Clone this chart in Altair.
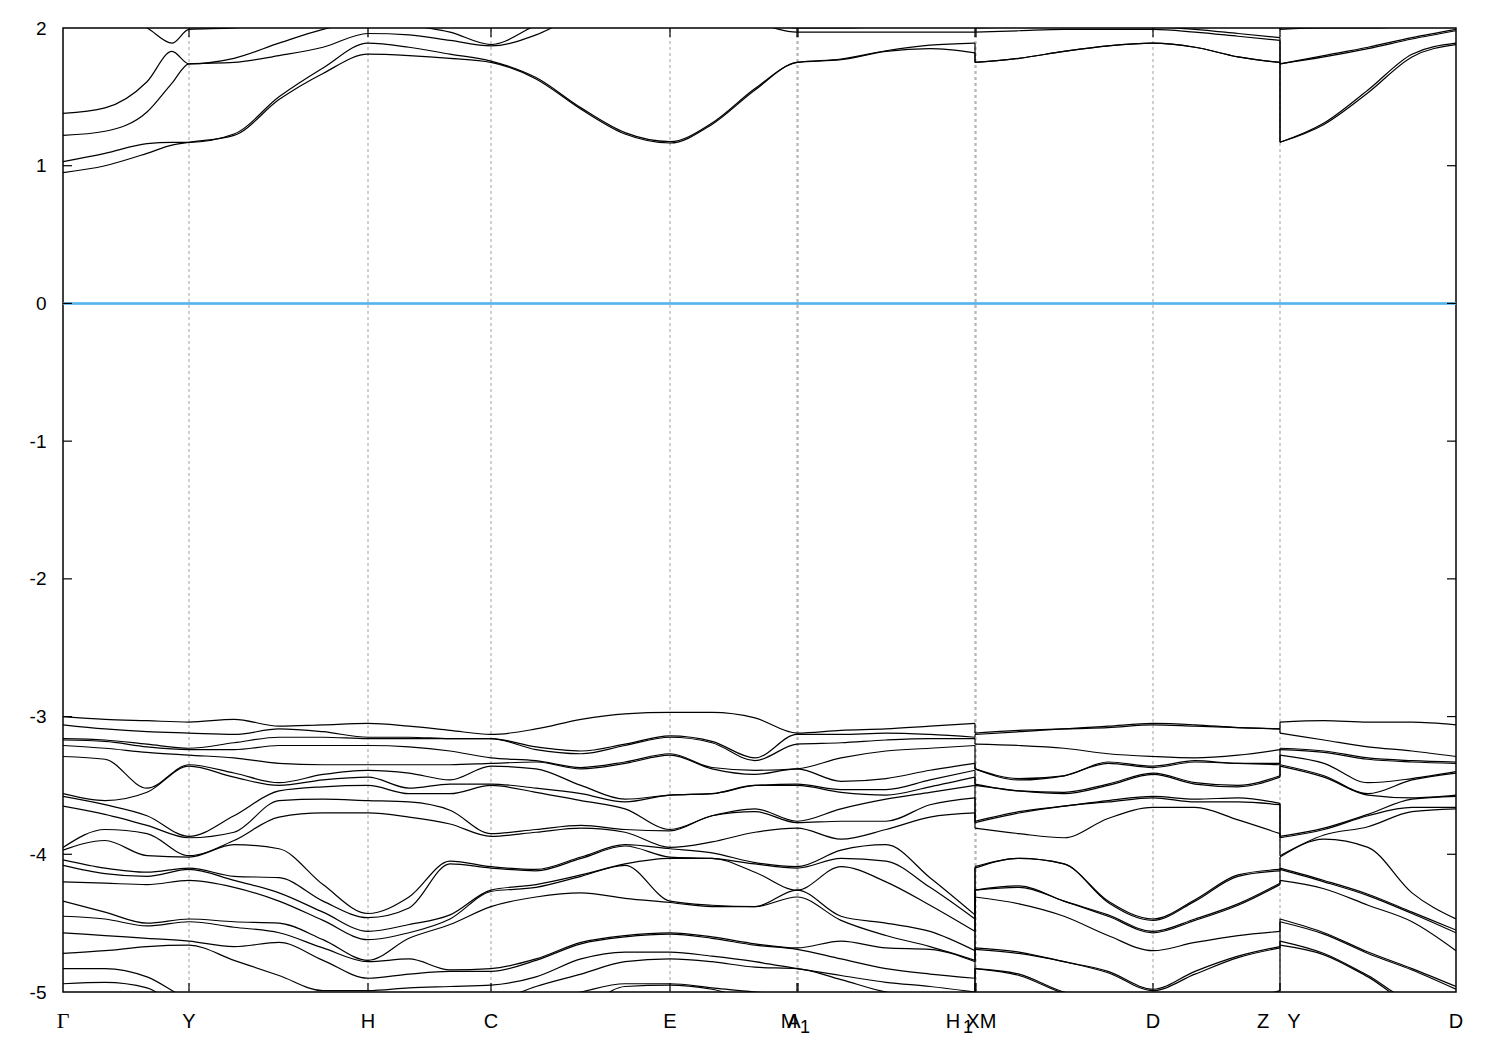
import altair as alt
import pandas as pd

# ---------------- k-path (high-symmetry points) ----------------
tick_k = [0.126, 0.305, 0.428, 0.607, 0.734, 0.735, 0.912, 0.913, 1.090, 1.217]
K_END = 1.393

lab_text = ["Y", "H", "C", "E", "M", "A", "H", "X", "M", "D", "Z", "Y", "D"]
lab_k = [0.126, 0.305, 0.428, 0.607, 0.726, 0.731, 0.890, 0.910, 0.925, 1.090, 1.200, 1.231, 1.393]
gamma_text = ["Γ"]
gamma_k = [0.0]
sub_text = ["1", "1"]
sub_k = [0.742, 0.905]

# ---------------- valence bands: energies (eV) at each k column ----------------
val_k = [0.000, 0.042, 0.084, 0.126, 0.171, 0.216, 0.260, 0.305, 0.346, 0.387, 0.428,
         0.473, 0.518, 0.562, 0.607, 0.649, 0.692, 0.734, 0.778, 0.823, 0.867, 0.912,
         0.912, 0.956, 1.001, 1.045, 1.090, 1.132, 1.175, 1.217,
         1.217, 1.261, 1.305, 1.349, 1.393]

val_G   = [-3.00, -3.06, -3.16, -3.17, -3.21, -3.29, -3.56, -3.58, -3.65, -3.95, -3.97, -4.04, -4.08, -4.20, -4.34, -4.45, -4.57, -4.72, -4.83, -4.94, -5.10, -5.20]
val_GY1 = [-3.02, -3.09, -3.17, -3.18, -3.23, -3.31, -3.61, -3.64, -3.71, -3.82, -3.90, -4.10, -4.14, -4.21, -4.42, -4.47, -4.59, -4.70, -4.83, -4.93, -5.12, -5.22]
val_GY2 = [-3.03, -3.11, -3.20, -3.22, -3.26, -3.52, -3.55, -3.72, -3.79, -3.85, -4.01, -4.13, -4.16, -4.22, -4.50, -4.52, -4.61, -4.67, -4.89, -4.97, -5.15, -5.25]
val_Y   = [-3.04, -3.12, -3.23, -3.24, -3.28, -3.35, -3.36, -3.87, -3.88, -4.01, -4.02, -4.10, -4.11, -4.19, -4.47, -4.49, -4.63, -4.66, -5.05, -5.15, -5.25, -5.35]
val_YH1 = [-3.02, -3.13, -3.19, -3.24, -3.30, -3.41, -3.44, -3.72, -3.84, -3.90, -3.93, -4.16, -4.19, -4.24, -4.49, -4.53, -4.67, -4.77, -5.10, -5.20, -5.30, -5.40]
val_YH2 = [-3.07, -3.09, -3.15, -3.21, -3.34, -3.48, -3.50, -3.54, -3.61, -3.73, -3.96, -4.17, -4.28, -4.34, -4.50, -4.57, -4.64, -4.88, -5.15, -5.25, -5.35, -5.45]
val_YH3 = [-3.06, -3.11, -3.15, -3.21, -3.35, -3.42, -3.46, -3.51, -3.60, -3.70, -4.22, -4.34, -4.42, -4.48, -4.62, -4.68, -4.77, -4.99, -5.20, -5.30, -5.40, -5.50]
val_H   = [-3.05, -3.15, -3.16, -3.21, -3.35, -3.39, -3.44, -3.50, -3.61, -3.70, -4.43, -4.46, -4.56, -4.62, -4.77, -4.78, -4.90, -4.99, -5.20, -5.30, -5.40, -5.50]
val_HC1 = [-3.07, -3.15, -3.16, -3.22, -3.35, -3.41, -3.52, -3.56, -3.62, -3.73, -4.31, -4.39, -4.51, -4.57, -4.61, -4.76, -4.87, -4.97, -5.20, -5.30, -5.40, -5.50]
val_HC2 = [-3.10, -3.16, -3.16, -3.25, -3.35, -3.46, -3.49, -3.56, -3.68, -3.78, -4.05, -4.07, -4.44, -4.47, -4.51, -4.84, -4.85, -4.96, -5.15, -5.25, -5.35, -5.45]
val_C   = [-3.13, -3.16, -3.16, -3.30, -3.34, -3.36, -3.49, -3.50, -3.85, -3.87, -4.09, -4.10, -4.26, -4.27, -4.38, -4.83, -4.85, -4.95, -5.08, -5.20, -5.30, -5.40]
val_CE1 = [-3.09, -3.22, -3.24, -3.32, -3.33, -3.38, -3.52, -3.55, -3.82, -3.84, -4.11, -4.12, -4.22, -4.24, -4.31, -4.76, -4.77, -4.89, -4.96, -5.08, -5.18, -5.28]
val_CE2 = [-3.02, -3.25, -3.27, -3.37, -3.38, -3.50, -3.56, -3.61, -3.79, -3.81, -4.02, -4.03, -4.15, -4.16, -4.28, -4.64, -4.65, -4.76, -4.87, -5.00, -5.12, -5.20]
val_CE3 = [-2.98, -3.20, -3.21, -3.33, -3.34, -3.60, -3.62, -3.67, -3.82, -3.84, -3.93, -3.94, -4.07, -4.08, -4.32, -4.59, -4.60, -4.71, -4.78, -4.94, -4.96, -5.05]
val_E   = [-2.97, -3.14, -3.15, -3.27, -3.28, -3.57, -3.57, -3.82, -3.83, -3.95, -3.96, -4.02, -4.03, -4.34, -4.35, -4.57, -4.58, -4.71, -4.76, -4.94, -4.95, -5.05]
val_EA1 = [-2.97, -3.18, -3.19, -3.37, -3.38, -3.56, -3.56, -3.72, -3.72, -3.91, -3.99, -4.03, -4.03, -4.37, -4.38, -4.60, -4.61, -4.74, -4.78, -4.97, -4.98, -5.07]
val_EA2 = [-3.01, -3.30, -3.32, -3.39, -3.42, -3.50, -3.50, -3.67, -3.69, -3.84, -4.06, -4.07, -4.13, -4.38, -4.38, -4.65, -4.66, -4.78, -4.82, -5.00, -5.05, -5.10]
val_A1  = [-3.12, -3.13, -3.20, -3.38, -3.38, -3.49, -3.50, -3.76, -3.77, -3.81, -4.09, -4.10, -4.26, -4.26, -4.31, -4.68, -4.69, -4.83, -4.83, -5.02, -5.05, -5.10]
val_AH1 = [-3.10, -3.13, -3.19, -3.30, -3.47, -3.53, -3.55, -3.67, -3.76, -3.89, -3.97, -4.03, -4.09, -4.45, -4.48, -4.63, -4.76, -4.88, -4.91, -5.05, -5.10, -5.15]
val_AH2 = [-3.09, -3.12, -3.17, -3.25, -3.45, -3.53, -3.57, -3.60, -3.76, -3.82, -3.93, -4.05, -4.20, -4.50, -4.59, -4.68, -4.83, -4.93, -5.00, -5.05, -5.10, -5.15]
val_AH3 = [-3.07, -3.13, -3.16, -3.23, -3.39, -3.46, -3.51, -3.55, -3.64, -3.73, -4.17, -4.24, -4.37, -4.56, -4.67, -4.69, -4.87, -4.96, -5.03, -5.07, -5.11, -5.15]
val_H1  = [-3.05, -3.15, -3.16, -3.21, -3.34, -3.39, -3.44, -3.50, -3.59, -3.70, -4.44, -4.47, -4.56, -4.70, -4.77, -4.78, -4.90, -5.00, -5.10, -5.20, -5.30, -5.40]
val_X   = [-3.12, -3.13, -3.20, -3.38, -3.38, -3.49, -3.50, -3.76, -3.77, -3.81, -4.09, -4.10, -4.26, -4.26, -4.31, -4.68, -4.69, -4.83, -4.83, -5.02, -5.05, -5.10]
val_XD1 = [-3.10, -3.11, -3.21, -3.45, -3.46, -3.54, -3.54, -3.69, -3.70, -3.85, -4.03, -4.03, -4.23, -4.24, -4.36, -4.71, -4.72, -4.87, -4.88, -5.05, -5.10, -5.15]
val_XD2 = [-3.09, -3.09, -3.23, -3.43, -3.43, -3.55, -3.56, -3.65, -3.65, -3.88, -4.07, -4.07, -4.34, -4.34, -4.45, -4.78, -4.78, -5.00, -5.01, -5.05, -5.10, -5.15]
val_XD3 = [-3.07, -3.08, -3.27, -3.33, -3.34, -3.49, -3.50, -3.61, -3.62, -3.74, -4.34, -4.35, -4.44, -4.45, -4.59, -4.85, -4.86, -5.05, -5.07, -5.10, -5.12, -5.15]
val_D   = [-3.05, -3.06, -3.29, -3.36, -3.37, -3.41, -3.42, -3.58, -3.59, -3.66, -4.47, -4.48, -4.56, -4.57, -4.70, -4.98, -4.99, -5.05, -5.07, -5.10, -5.12, -5.15]
val_DZ1 = [-3.06, -3.07, -3.30, -3.32, -3.33, -3.48, -3.49, -3.60, -3.62, -3.66, -4.33, -4.34, -4.47, -4.48, -4.64, -4.85, -4.87, -5.05, -5.07, -5.10, -5.12, -5.15]
val_DZ2 = [-3.08, -3.08, -3.28, -3.34, -3.34, -3.50, -3.51, -3.59, -3.62, -3.75, -4.15, -4.16, -4.36, -4.37, -4.59, -4.74, -4.75, -5.05, -5.07, -5.10, -5.12, -5.15]
val_Z   = [-3.09, -3.09, -3.24, -3.34, -3.35, -3.43, -3.44, -3.63, -3.64, -3.85, -4.11, -4.12, -4.21, -4.22, -4.56, -4.67, -4.68, -4.99, -5.05, -5.10, -5.12, -5.15]
val_Y2  = [-3.04, -3.12, -3.23, -3.24, -3.28, -3.35, -3.36, -3.87, -3.88, -4.01, -4.02, -4.10, -4.11, -4.19, -4.47, -4.49, -4.63, -4.66, -5.05, -5.15, -5.25, -5.35]
val_YD1 = [-3.03, -3.17, -3.25, -3.26, -3.34, -3.43, -3.44, -3.81, -3.82, -3.86, -3.89, -4.19, -4.20, -4.25, -4.57, -4.58, -4.72, -4.73, -5.05, -5.07, -5.10, -5.12]
val_YD2 = [-3.04, -3.22, -3.30, -3.31, -3.48, -3.56, -3.57, -3.71, -3.72, -3.80, -3.95, -4.29, -4.30, -4.37, -4.71, -4.72, -4.88, -4.89, -5.05, -5.07, -5.10, -5.12]
val_YD3 = [-3.04, -3.25, -3.32, -3.33, -3.45, -3.46, -3.59, -3.60, -3.66, -3.69, -4.28, -4.42, -4.43, -4.49, -4.83, -4.84, -5.05, -5.07, -5.10, -5.12, -5.14, -5.17]
val_D2  = [-3.06, -3.29, -3.33, -3.34, -3.40, -3.41, -3.57, -3.58, -3.66, -3.67, -4.47, -4.55, -4.57, -4.70, -4.96, -4.98, -5.05, -5.07, -5.10, -5.12, -5.15, -5.18]

val_cols = [val_G, val_GY1, val_GY2, val_Y, val_YH1, val_YH2, val_YH3, val_H, val_HC1, val_HC2,
            val_C, val_CE1, val_CE2, val_CE3, val_E, val_EA1, val_EA2, val_A1, val_AH1, val_AH2,
            val_AH3, val_H1, val_X, val_XD1, val_XD2, val_XD3, val_D, val_DZ1, val_DZ2, val_Z,
            val_Y2, val_YD1, val_YD2, val_YD3, val_D2]

# ---------------- conduction bands ----------------
con_k = [0.000, 0.042, 0.084, 0.109, 0.126, 0.171, 0.216, 0.260, 0.305, 0.346, 0.387, 0.428,
         0.473, 0.518, 0.562, 0.607, 0.649, 0.692, 0.734, 0.778, 0.823, 0.867, 0.912,
         0.912, 0.956, 1.001, 1.045, 1.090, 1.132, 1.175, 1.217,
         1.217, 1.261, 1.305, 1.349, 1.393]

con_G   = [0.95, 1.03, 1.22, 1.38, 2.10, 2.20]
con_GY1 = [1.00, 1.09, 1.25, 1.42, 2.10, 2.20]
con_GY2 = [1.09, 1.16, 1.39, 1.61, 2.00, 2.20]
con_GY3 = [1.15, 1.17, 1.60, 1.83, 1.89, 2.20]
con_Y   = [1.17, 1.17, 1.74, 1.74, 1.99, 2.20]
con_YH1 = [1.22, 1.23, 1.75, 1.78, 2.00, 2.20]
con_YH2 = [1.48, 1.50, 1.80, 1.89, 2.05, 2.20]
con_YH3 = [1.67, 1.71, 1.86, 1.99, 2.10, 2.20]
con_H   = [1.81, 1.89, 1.96, 2.05, 2.15, 2.25]
con_HC1 = [1.80, 1.86, 1.95, 2.02, 2.15, 2.25]
con_HC2 = [1.78, 1.81, 1.91, 1.97, 2.15, 2.25]
con_C   = [1.75, 1.76, 1.87, 1.88, 2.15, 2.25]
con_CE1 = [1.63, 1.64, 1.95, 2.02, 2.15, 2.25]
con_CE2 = [1.41, 1.42, 2.10, 2.15, 2.20, 2.25]
con_CE3 = [1.23, 1.24, 2.15, 2.20, 2.25, 2.30]
con_E   = [1.165, 1.175, 2.20, 2.25, 2.30, 2.35]
con_EA1 = [1.30, 1.31, 2.20, 2.25, 2.30, 2.35]
con_EA2 = [1.55, 1.56, 2.05, 2.10, 2.30, 2.35]
con_A1  = [1.75, 1.75, 1.97, 2.00, 2.20, 2.30]
con_AH1 = [1.77, 1.775, 1.97, 2.00, 2.20, 2.30]
con_AH2 = [1.83, 1.835, 1.97, 2.01, 2.20, 2.30]
con_AH3 = [1.85, 1.875, 1.97, 2.02, 2.20, 2.30]
con_H1  = [1.82, 1.89, 1.97, 2.05, 2.20, 2.30]
con_X   = [1.75, 1.75, 1.97, 2.00, 2.20, 2.30]
con_XD1 = [1.78, 1.78, 1.98, 2.01, 2.20, 2.30]
con_XD2 = [1.83, 1.83, 1.99, 2.02, 2.20, 2.30]
con_XD3 = [1.87, 1.87, 1.99, 2.02, 2.20, 2.30]
con_D   = [1.89, 1.89, 1.99, 2.01, 2.20, 2.30]
con_DZ1 = [1.86, 1.86, 1.97, 1.99, 2.20, 2.30]
con_DZ2 = [1.79, 1.79, 1.94, 1.96, 2.20, 2.30]
con_Z   = [1.75, 1.75, 1.91, 1.93, 2.20, 2.30]
con_Y2  = [1.17, 1.17, 1.74, 1.74, 1.99, 2.20]
con_YD1 = [1.30, 1.31, 1.79, 1.80, 2.00, 2.20]
con_YD2 = [1.53, 1.55, 1.85, 1.86, 2.00, 2.20]
con_YD3 = [1.79, 1.81, 1.92, 1.93, 2.01, 2.20]
con_D2  = [1.88, 1.89, 1.98, 1.99, 2.02, 2.20]

con_cols = [con_G, con_GY1, con_GY2, con_GY3, con_Y, con_YH1, con_YH2, con_YH3, con_H, con_HC1,
            con_HC2, con_C, con_CE1, con_CE2, con_CE3, con_E, con_EA1, con_EA2, con_A1, con_AH1,
            con_AH2, con_AH3, con_H1, con_X, con_XD1, con_XD2, con_XD3, con_D, con_DZ1, con_DZ2,
            con_Z, con_Y2, con_YD1, con_YD2, con_YD3, con_D2]

y_ticks = [-5, -4, -3, -2, -1, 0, 1, 2]


def build(cols, ks, descending, prefix):
    cols = [sorted(c, reverse=descending) for c in cols]
    nb = len(cols[0])
    # pieces split at the path discontinuities (columns sharing the same k)
    breaks = [i for i in range(1, len(ks)) if ks[i] == ks[i - 1]]
    starts = [0] + breaks
    ends = [b - 1 for b in breaks] + [len(ks) - 1]
    rows, conn = [], []
    for p, (s, e) in enumerate(zip(starts, ends)):
        for b in range(nb):
            for j in range(s, e + 1):
                rows.append({"band": f"{prefix}{b}_{p}", "k": ks[j], "e": cols[j][b], "o": j})
    for br in breaks:
        for b in range(nb):
            conn.append({"k": ks[br], "e1": cols[br - 1][b], "e2": cols[br][b]})
    return rows, conn


r1, c1 = build(val_cols, val_k, True, "v")
r2, c2 = build(con_cols, con_k, False, "c")
bands = pd.DataFrame(r1 + r2)
jumps = pd.DataFrame(c1 + c2)

xs = alt.Scale(domain=[0, K_END], nice=False, zero=False)
ys = alt.Scale(domain=[-5, 2], nice=False, zero=False)

FONT = "Liberation Sans"

yaxis = alt.Axis(values=y_ticks, labelExpr="'' + datum.value", labelFont=FONT, labelFontSize=19,
                 labelColor="black", labelPadding=17, ticks=False, tickSize=0, domain=False,
                 grid=False, title=None)

grid_df = pd.DataFrame({"k": tick_k})
ytick_df = pd.DataFrame({"v": y_ticks[1:-1]})

grid = alt.Chart(grid_df).mark_rule(color="#a0a0a0", strokeWidth=1, strokeDash=[3, 3]).encode(
    x=alt.X("k:Q", scale=xs, axis=None),
    y=alt.YDatum(-5, scale=ys, axis=yaxis),
    y2=alt.Y2Datum(2),
)

zero = alt.Chart(ytick_df).mark_rule(color="#56B4E9", strokeWidth=1.6).encode(
    x=alt.XDatum(0.0, scale=xs, axis=None),
    x2=alt.X2Datum(K_END),
    y=alt.YDatum(0, scale=ys, axis=yaxis),
)

lines = alt.Chart(bands).mark_line(color="black", strokeWidth=1.2, interpolate="monotone", clip=True).encode(
    x=alt.X("k:Q", scale=xs, axis=None),
    y=alt.Y("e:Q", scale=ys, axis=yaxis),
    detail="band:N",
    order="o:Q",
)

connect = alt.Chart(jumps).mark_rule(color="black", strokeWidth=1.2, clip=True).encode(
    x=alt.X("k:Q", scale=xs, axis=None),
    y=alt.Y("e1:Q", scale=ys, axis=yaxis),
    y2="e2:Q",
)

tl = alt.Chart(ytick_df).mark_rule(color="black", strokeWidth=1.2, x2Offset=9).encode(
    x=alt.XDatum(0.0, scale=xs, axis=None), x2=alt.X2Datum(0.0),
    y=alt.Y("v:Q", scale=ys, axis=yaxis))
tr = alt.Chart(ytick_df).mark_rule(color="black", strokeWidth=1.2, x2Offset=-9).encode(
    x=alt.XDatum(K_END, scale=xs, axis=None), x2=alt.X2Datum(K_END),
    y=alt.Y("v:Q", scale=ys, axis=yaxis))
tb = alt.Chart(grid_df).mark_rule(color="black", strokeWidth=1.2, y2Offset=-9).encode(
    x=alt.X("k:Q", scale=xs, axis=None),
    y=alt.YDatum(-5, scale=ys, axis=yaxis), y2=alt.Y2Datum(-5))
tt = alt.Chart(grid_df).mark_rule(color="black", strokeWidth=1.2, y2Offset=9).encode(
    x=alt.X("k:Q", scale=xs, axis=None),
    y=alt.YDatum(2, scale=ys, axis=yaxis), y2=alt.Y2Datum(2))

labels = alt.Chart(pd.DataFrame({"k": lab_k, "t": lab_text})).mark_text(
    font=FONT, fontSize=20, baseline="alphabetic", align="center", color="black").encode(
    x=alt.X("k:Q", scale=xs, axis=None), y=alt.value(1000), text="t:N")
gam = alt.Chart(pd.DataFrame({"k": gamma_k, "t": gamma_text})).mark_text(
    font="Liberation Serif", fontSize=22, baseline="alphabetic", align="center", color="black").encode(
    x=alt.X("k:Q", scale=xs, axis=None), y=alt.value(1000), text="t:N")
subs = alt.Chart(pd.DataFrame({"k": sub_k, "t": sub_text})).mark_text(
    font=FONT, fontSize=18, baseline="alphabetic", align="center", color="black").encode(
    x=alt.X("k:Q", scale=xs, axis=None), y=alt.value(1005), text="t:N")

chart = alt.layer(grid, zero, lines, connect, tl, tr, tb, tt, labels, gam, subs).properties(
    width=1393, height=964,
    autosize=alt.AutoSizeParams(type="none"),
    padding={"left": 55, "top": 20, "right": 30, "bottom": 50},
    background="white",
).configure_view(stroke="black", strokeWidth=1.5)

chart.save("out.html", embed_options={"renderer": "svg", "actions": False})
